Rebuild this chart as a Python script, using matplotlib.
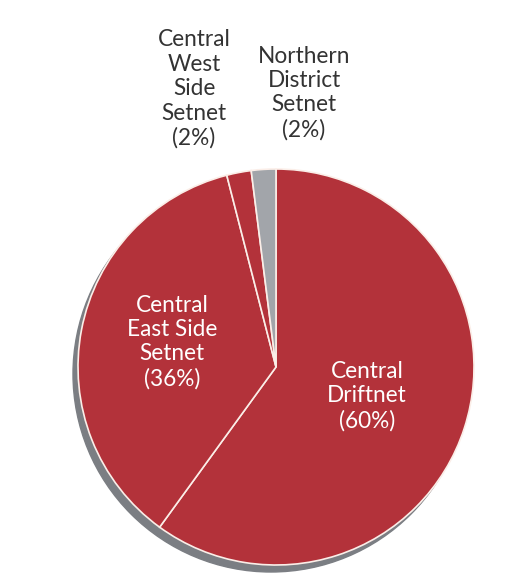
import matplotlib.pyplot as plt
from matplotlib.patches import Circle

labels = ['Central\nDriftnet\n(60%)', 'Central\nEast Side\nSetnet\n(36%)',
          'Central\nWest\nSide\nSetnet\n(2%)', 'Northern\nDistrict\nSetnet\n(2%)']
shares = [60, 36, 2, 2]
colors = ['#b3323a', '#b3323a', '#b3323a', '#a2a5aa']

fig = plt.figure(figsize=(5.21, 5.81), dpi=100)
ax = fig.add_axes([0, 0, 1, 1])

cx, cy, r = 276, 214, 198

# drop shadow
ax.add_patch(Circle((cx - 5, cy - 7), r, color='#7b7e83', zorder=1))

ax.pie(shares, colors=colors, startangle=90, counterclock=False,
       center=(cx, cy), radius=r, frame=True,
       wedgeprops=dict(edgecolor='#fbeee8', linewidth=1.2, zorder=2))
ax.set_xlim(0, 521)
ax.set_ylim(0, 581)
ax.set_aspect('equal')
ax.axis('off')

font = dict(family='Lato', fontsize=16.3, ha='center', va='center', linespacing=1.2)
ax.text(367, 581 - 396, labels[0], color='white', **font)
ax.text(172, 581 - 342, labels[1], color='white', **font)
ax.text(194, 581 - 89, labels[2], color='#333333', **font)
ax.text(304, 581 - 93, labels[3], color='#333333', **font)

fig.savefig('out.png', dpi=100)
